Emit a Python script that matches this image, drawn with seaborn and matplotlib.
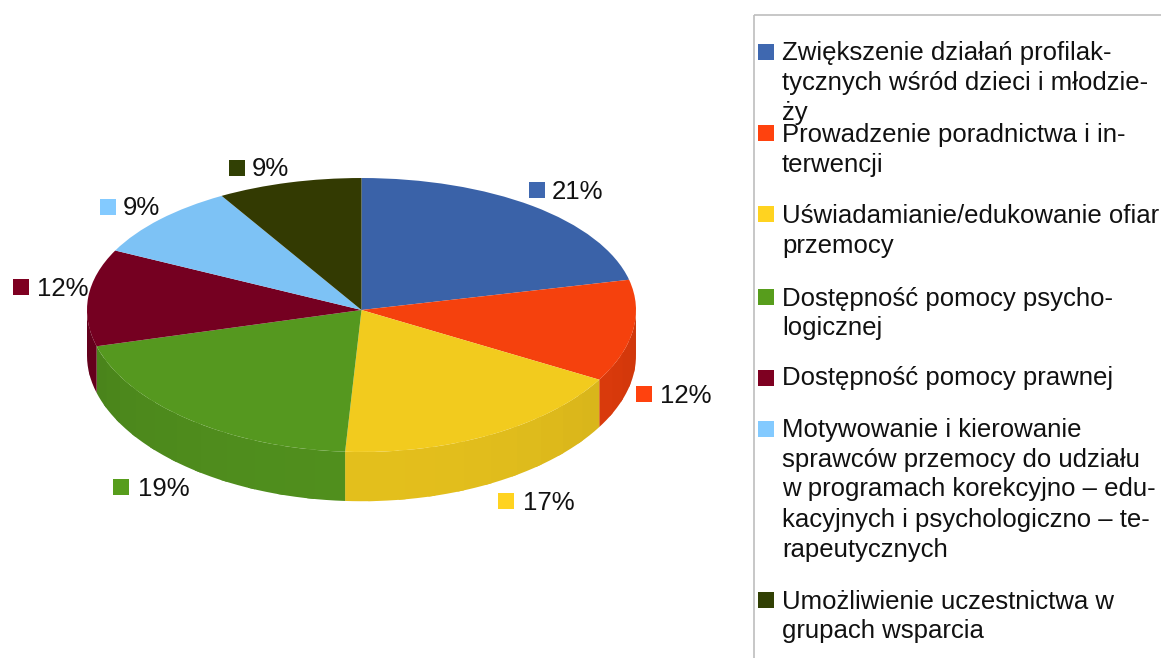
import numpy as np
import matplotlib
matplotlib.use("Agg")
import matplotlib.pyplot as plt
from matplotlib.patches import Rectangle
import seaborn as sns

categories = [
    ["Zwiększenie działań profilak-", "tycznych wśród dzieci i młodzie-", "ży"],
    ["Prowadzenie poradnictwa i in-", "terwencji"],
    ["Uświadamianie/edukowanie ofiar", "przemocy"],
    ["Dostępność pomocy psycho-", "logicznej"],
    ["Dostępność pomocy prawnej"],
    ["Motywowanie i kierowanie", "sprawców przemocy do udziału", "w programach korekcyjno – edu-",
     "kacyjnych i psychologiczno – te-", "rapeutycznych"],
    ["Umożliwienie uczestnictwa w", "grupach wsparcia"],
]
values = [21.4, 11.9, 17.6, 19.8, 11.5, 9.2, 8.5]
value_labels = ["21%", "12%", "17%", "19%", "12%", "9%", "9%"]
top_colors = ["#3A62A8", "#F5410D", "#F2CB1E", "#55981F", "#750021", "#7DC2F5", "#333A02"]
key_colors = ["#3F68B0", "#FF420E", "#FFD320", "#579D1C", "#7E0021", "#83CAFF", "#314004"]

sns.set_theme(style="white")
plt.rcParams["font.family"] = ["Liberation Sans", "DejaVu Sans"]
W, H = 1161, 658
FS = 18.5
fig = plt.figure(figsize=(W / 100, H / 100), dpi=100, facecolor="white")

# pie axes: pixel-aligned, with a mild perspective on the vertical
cx, cy, rx = 361.5, 310, 274.5
k, a = 0.0365, 136.8
forward = lambda y: a * y / (1 + k * y)
inverse = lambda s: s / (a - k * s)
ax = fig.add_axes([0, 0, 1, 1])
wedges, _ = ax.pie(values, colors=sns.color_palette(top_colors), startangle=90,
                   counterclock=False, wedgeprops=dict(linewidth=0))
for w in wedges:
    w.set_zorder(3)
ax.set_aspect("auto")
ax.set_yscale("function", functions=(forward, inverse))
ax.set_xlim(-cx / rx, (W - cx) / rx)
ax.set_ylim(inverse(cy - H), inverse(cy))
ax.axis("off")

# extruded rim: overlapping facets painted in order, so no seams show
depth = 0.33
fracs = np.array(values) / sum(values)
edges = 90 - 360 * np.concatenate([[0], np.cumsum(fracs)])
for i, c in enumerate(top_colors):
    lo, hi = edges[i + 1], edges[i]
    n = max(2, int((hi - lo) / 6))
    th = np.linspace(hi, lo, n + 1)
    for t0, t1 in zip(th[:-1], th[1:]):
        tm = np.radians(0.5 * (t0 + t1))
        if np.sin(tm) > 0.02:
            continue
        f = 0.84 + 0.10 * abs(np.sin(tm))
        rgb = tuple(f * v for v in matplotlib.colors.to_rgb(c))
        ts = np.radians(np.linspace(t0, max(t1 - 1.5, lo), 5))
        xs = np.cos(ts)
        yt = np.sin(ts)
        ax.fill(np.r_[xs, xs[::-1]], np.r_[yt, (yt - depth)[::-1]],
                color=rgb, lw=0, zorder=2)

# overlay in image pixels for keys, labels and legend box
ov = fig.add_axes([0, 0, 1, 1], facecolor="none")
ov.set_xlim(0, W)
ov.set_ylim(H, 0)
ov.axis("off")


def key(x, y, c):
    ov.add_patch(Rectangle((x, y), 16, 16, color=c, lw=0))


label_pos = [(529, 182, 552, 199), (636, 386, 660, 403), (498, 493, 523, 510),
             (113, 479, 138, 496), (13, 279, 37, 296), (100, 199, 123, 215), (229, 160, 252, 176)]
for (kx, ky, tx, by), lab, c in zip(label_pos, value_labels, key_colors):
    key(kx, ky, c)
    ov.text(tx, by, lab, fontsize=FS, va="baseline", ha="left", color="#111111")

ov.plot([754, 754], [15, H], color="#BDBDBD", lw=1.2, solid_capstyle="butt")
ov.plot([754, W], [15, 15], color="#BDBDBD", lw=1.2, solid_capstyle="butt")

key_y = [44, 125, 206, 289, 370, 421, 592]
baselines = [[60, 90, 120], [142, 172], [223, 253], [306, 335], [385], [437, 467, 496, 527, 557], [609, 638]]
for cat, ky, bl, c in zip(categories, key_y, baselines, key_colors):
    key(758, ky, c)
    for line, b in zip(cat, bl):
        ov.text(782, b, line, fontsize=FS, va="baseline", ha="left", color="#111111")

fig.savefig("out.png", dpi=100, facecolor="white")
